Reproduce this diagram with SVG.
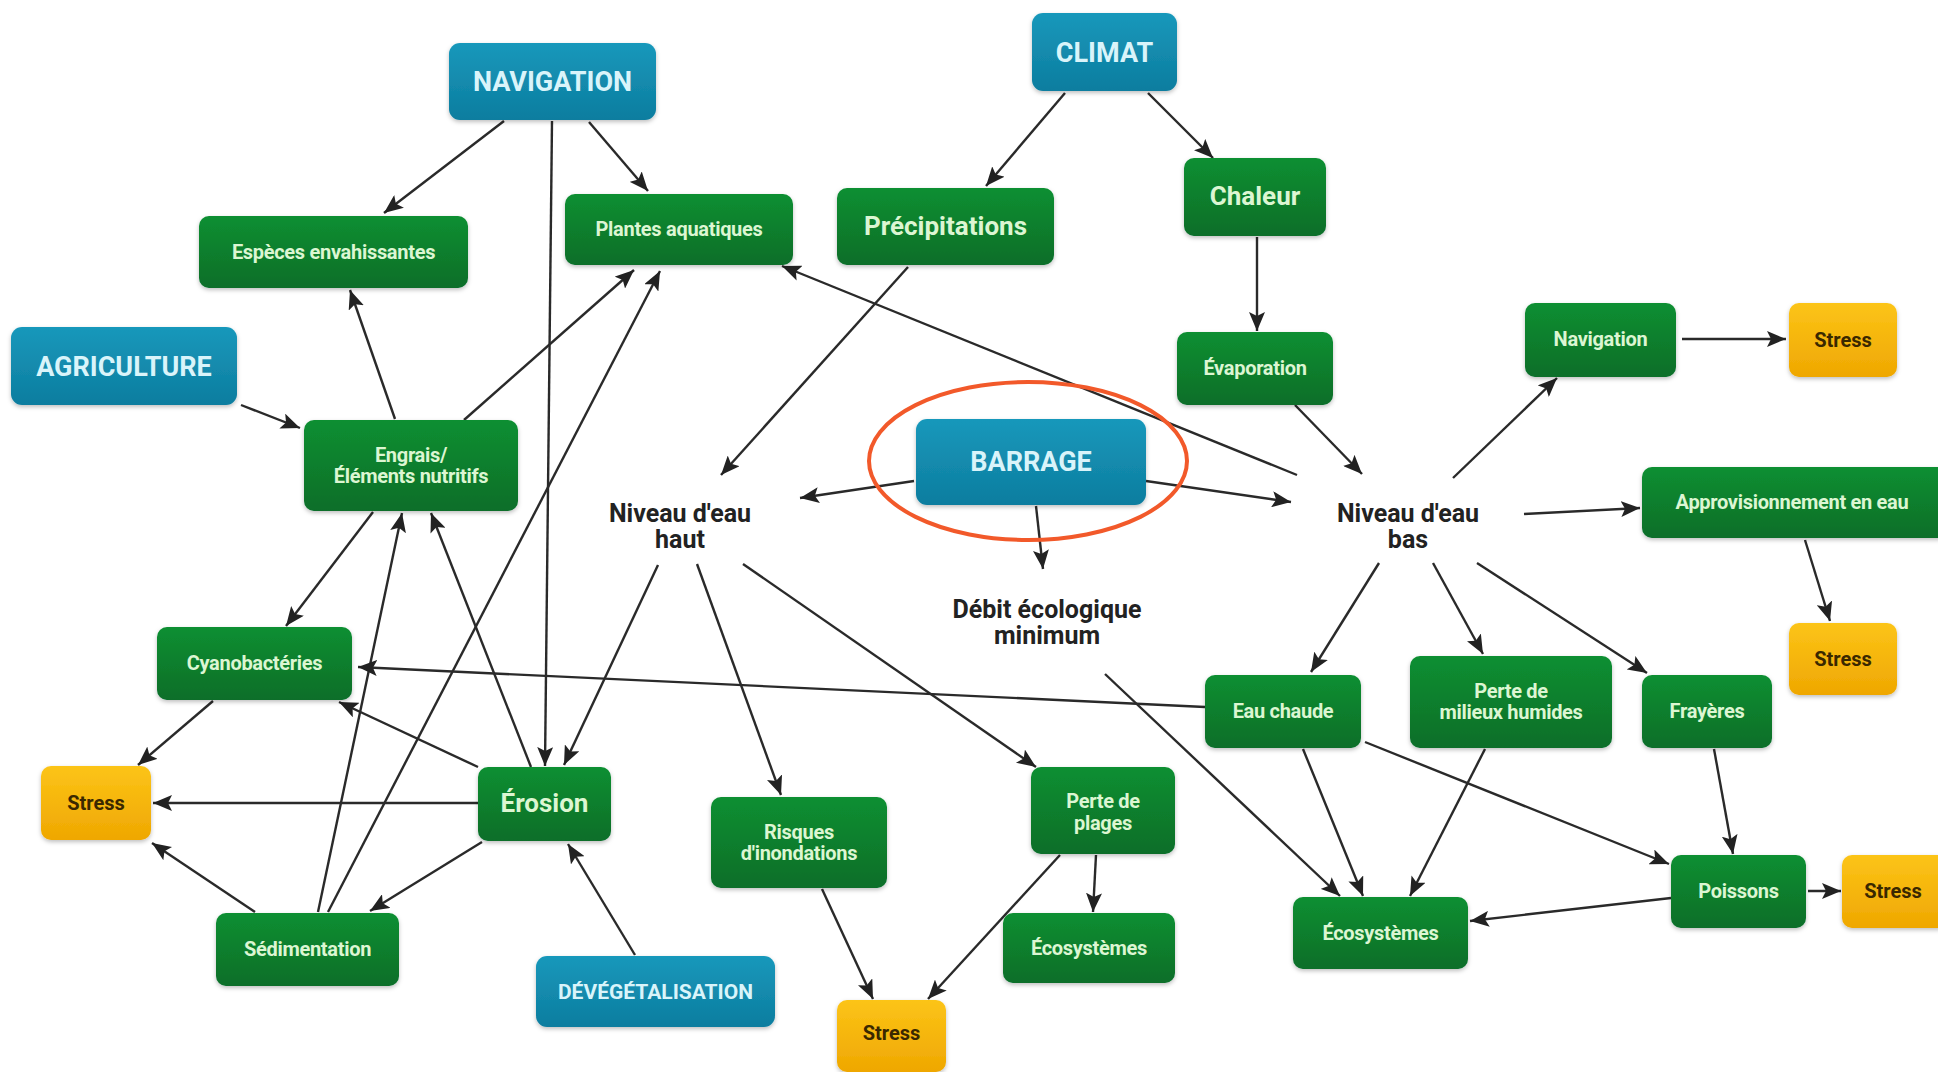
<svg xmlns="http://www.w3.org/2000/svg" width="1938" height="1072" viewBox="0 0 1938 1072">
<defs>
  <linearGradient id="gBlue" x1="0" y1="0" x2="0" y2="1">
    <stop offset="0" stop-color="#1898bb"/>
    <stop offset="1" stop-color="#0d7d9f"/>
  </linearGradient>
  <linearGradient id="gGreen" x1="0" y1="0" x2="0" y2="1">
    <stop offset="0" stop-color="#0b8f31"/>
    <stop offset="1" stop-color="#076e29"/>
  </linearGradient>
  <linearGradient id="gYellow" x1="0" y1="0" x2="0" y2="1">
    <stop offset="0" stop-color="#fcc417"/>
    <stop offset="1" stop-color="#efa702"/>
  </linearGradient>
  <filter id="sh" x="-10%" y="-10%" width="120%" height="130%">
    <feDropShadow dx="0" dy="2" stdDeviation="2" flood-color="#000" flood-opacity="0.25"/>
  </filter>
  <marker id="arr" markerUnits="userSpaceOnUse" markerWidth="20" markerHeight="16" refX="19" refY="8" orient="auto">
    <path d="M0,0 L19,8 L0,16 L4,8 z" fill="#222"/>
  </marker>
</defs>
<style>
  .blue rect { fill: url(#gBlue); filter: url(#sh); }
  .green rect { fill: url(#gGreen); filter: url(#sh); }
  .yellow rect { fill: url(#gYellow); filter: url(#sh); }
  text { font-family: Roboto, "Liberation Sans", sans-serif; font-weight: bold; text-anchor: middle; }
  .blue text { fill: #d9f4fa; font-size: 27px; }
  .green text { fill: #dcf6d2; font-size: 20px; letter-spacing: -0.3px; }
  .green text.big { font-size: 26px; letter-spacing: 0; }
  .yellow text { fill: #3a2800; font-size: 20px; }
  .label text { fill: #222; font-size: 25px; }
  #connectors line { stroke: #2a2a2a; stroke-width: 2.4; marker-end: url(#arr); }
</style>
<rect width="1938" height="1072" fill="#ffffff"/>

<g id="connectors">
  <line x1="504" y1="121" x2="384" y2="213"/>
  <line x1="552" y1="121" x2="545" y2="766"/>
  <line x1="589" y1="122" x2="648" y2="191"/>
  <line x1="241" y1="405" x2="300" y2="428"/>
  <line x1="395" y1="419" x2="350" y2="290"/>
  <line x1="464" y1="420" x2="634" y2="270"/>
  <line x1="328" y1="912" x2="660" y2="271"/>
  <line x1="318" y1="912" x2="402" y2="513"/>
  <line x1="531" y1="767" x2="431" y2="513"/>
  <line x1="373" y1="512" x2="286" y2="626"/>
  <line x1="1205" y1="707" x2="358" y2="667"/>
  <line x1="478" y1="767" x2="339" y2="702"/>
  <line x1="213" y1="701" x2="138" y2="765"/>
  <line x1="478" y1="803" x2="153" y2="803"/>
  <line x1="255" y1="912" x2="152" y2="843"/>
  <line x1="482" y1="842" x2="370" y2="911"/>
  <line x1="635" y1="955" x2="568" y2="844"/>
  <line x1="658" y1="565" x2="564" y2="765"/>
  <line x1="908" y1="267" x2="721" y2="475"/>
  <line x1="914" y1="481" x2="800" y2="498"/>
  <line x1="1146" y1="481" x2="1291" y2="502"/>
  <line x1="1036" y1="506" x2="1043" y2="569"/>
  <line x1="1297" y1="475" x2="782" y2="266"/>
  <line x1="1295" y1="405" x2="1362" y2="474"/>
  <line x1="1453" y1="478" x2="1557" y2="378"/>
  <line x1="1682" y1="339" x2="1786" y2="339"/>
  <line x1="1524" y1="514" x2="1640" y2="508"/>
  <line x1="1805" y1="540" x2="1830" y2="621"/>
  <line x1="1379" y1="563" x2="1311" y2="672"/>
  <line x1="1433" y1="563" x2="1483" y2="654"/>
  <line x1="1477" y1="563" x2="1647" y2="673"/>
  <line x1="697" y1="564" x2="781" y2="795"/>
  <line x1="743" y1="564" x2="1036" y2="767"/>
  <line x1="822" y1="889" x2="873" y2="999"/>
  <line x1="1060" y1="855" x2="928" y2="999"/>
  <line x1="1096" y1="855" x2="1093" y2="912"/>
  <line x1="1105" y1="674" x2="1340" y2="896"/>
  <line x1="1303" y1="749" x2="1363" y2="896"/>
  <line x1="1485" y1="749" x2="1410" y2="896"/>
  <line x1="1365" y1="742" x2="1669" y2="864"/>
  <line x1="1714" y1="749" x2="1733" y2="854"/>
  <line x1="1671" y1="898" x2="1470" y2="921"/>
  <line x1="1808" y1="891" x2="1841" y2="891"/>
  <line x1="1065" y1="93" x2="986" y2="186"/>
  <line x1="1148" y1="93" x2="1213" y2="158"/>
  <line x1="1257" y1="237" x2="1257" y2="331"/>
</g>

<ellipse cx="1028" cy="461" rx="159" ry="79" fill="none" stroke="#f2592a" stroke-width="4"/>

<g id="n-navigation" class="blue"><rect x="449" y="43" width="207" height="77" rx="11"/><text x="552.5" y="91">NAVIGATION</text></g>
<g id="n-climat" class="blue"><rect x="1032" y="13" width="145" height="78" rx="11"/><text x="1104.5" y="62">CLIMAT</text></g>
<g id="n-agriculture" class="blue"><rect x="11" y="327" width="226" height="78" rx="11"/><text x="124" y="376">AGRICULTURE</text></g>
<g id="n-barrage" class="blue"><rect x="916" y="419" width="230" height="86" rx="11"/><text x="1031" y="471">BARRAGE</text></g>
<g id="n-devegetalisation" class="blue"><rect x="536" y="956" width="239" height="71" rx="11"/><text x="655.5" y="999" style="font-size:21px">DÉVÉGÉTALISATION</text></g>

<g id="n-especes" class="green"><rect x="199" y="216" width="269" height="72" rx="10"/><text x="333.5" y="259">Espèces envahissantes</text></g>
<g id="n-plantes" class="green"><rect x="565" y="194" width="228" height="71" rx="10"/><text x="679" y="236">Plantes aquatiques</text></g>
<g id="n-precipitations" class="green"><rect x="837" y="188" width="217" height="77" rx="10"/><text class="big" x="945.5" y="235">Précipitations</text></g>
<g id="n-chaleur" class="green"><rect x="1184" y="158" width="142" height="78" rx="10"/><text class="big" x="1255" y="205">Chaleur</text></g>
<g id="n-evaporation" class="green"><rect x="1177" y="332" width="156" height="73" rx="10"/><text x="1255" y="375">Évaporation</text></g>
<g id="n-engrais" class="green"><rect x="304" y="420" width="214" height="91" rx="10"/><text x="411" y="462">Engrais/</text><text x="411" y="483">Éléments nutritifs</text></g>
<g id="n-cyano" class="green"><rect x="157" y="627" width="195" height="73" rx="10"/><text x="254.5" y="670">Cyanobactéries</text></g>
<g id="n-erosion" class="green"><rect x="478" y="767" width="133" height="74" rx="10"/><text class="big" x="544.5" y="812">Érosion</text></g>
<g id="n-sedimentation" class="green"><rect x="216" y="913" width="183" height="73" rx="10"/><text x="307.5" y="956">Sédimentation</text></g>
<g id="n-risques" class="green"><rect x="711" y="797" width="176" height="91" rx="10"/><text x="799" y="839">Risques</text><text x="799" y="860">d'inondations</text></g>
<g id="n-plages" class="green"><rect x="1031" y="767" width="144" height="87" rx="10"/><text x="1103" y="808">Perte de</text><text x="1103" y="830">plages</text></g>
<g id="n-eco-mid" class="green"><rect x="1003" y="913" width="172" height="70" rx="10"/><text x="1089" y="955">Écosystèmes</text></g>
<g id="n-eau-chaude" class="green"><rect x="1205" y="675" width="156" height="73" rx="10"/><text x="1283" y="718">Eau chaude</text></g>
<g id="n-humides" class="green"><rect x="1410" y="656" width="202" height="92" rx="10"/><text x="1511" y="698">Perte de</text><text x="1511" y="719">milieux humides</text></g>
<g id="n-frayeres" class="green"><rect x="1642" y="675" width="130" height="73" rx="10"/><text x="1707" y="718">Frayères</text></g>
<g id="n-eco-right" class="green"><rect x="1293" y="897" width="175" height="72" rx="10"/><text x="1380.5" y="940">Écosystèmes</text></g>
<g id="n-poissons" class="green"><rect x="1671" y="855" width="135" height="73" rx="10"/><text x="1738.5" y="898">Poissons</text></g>
<g id="n-navigation-r" class="green"><rect x="1525" y="303" width="151" height="74" rx="10"/><text x="1600.5" y="346">Navigation</text></g>
<g id="n-appro" class="green"><rect x="1642" y="467" width="306" height="71" rx="10"/><text x="1792" y="509">Approvisionnement en eau</text></g>

<g id="n-stress-l" class="yellow"><rect x="41" y="766" width="110" height="74" rx="10"/><text x="96" y="810">Stress</text></g>
<g id="n-stress-b" class="yellow"><rect x="837" y="1000" width="109" height="72" rx="10"/><text x="891.5" y="1040">Stress</text></g>
<g id="n-stress-r1" class="yellow"><rect x="1789" y="303" width="108" height="74" rx="10"/><text x="1843" y="347">Stress</text></g>
<g id="n-stress-r2" class="yellow"><rect x="1789" y="623" width="108" height="72" rx="10"/><text x="1843" y="666">Stress</text></g>
<g id="n-stress-r3" class="yellow"><rect x="1842" y="855" width="106" height="73" rx="10"/><text x="1893" y="898">Stress</text></g>

<g id="n-niveau-haut" class="label"><text x="680" y="522">Niveau d'eau</text><text x="680" y="548">haut</text></g>
<g id="n-niveau-bas" class="label"><text x="1408" y="522">Niveau d'eau</text><text x="1408" y="548">bas</text></g>
<g id="n-debit" class="label"><text x="1047" y="618">Débit écologique</text><text x="1047" y="644">minimum</text></g>
</svg>
